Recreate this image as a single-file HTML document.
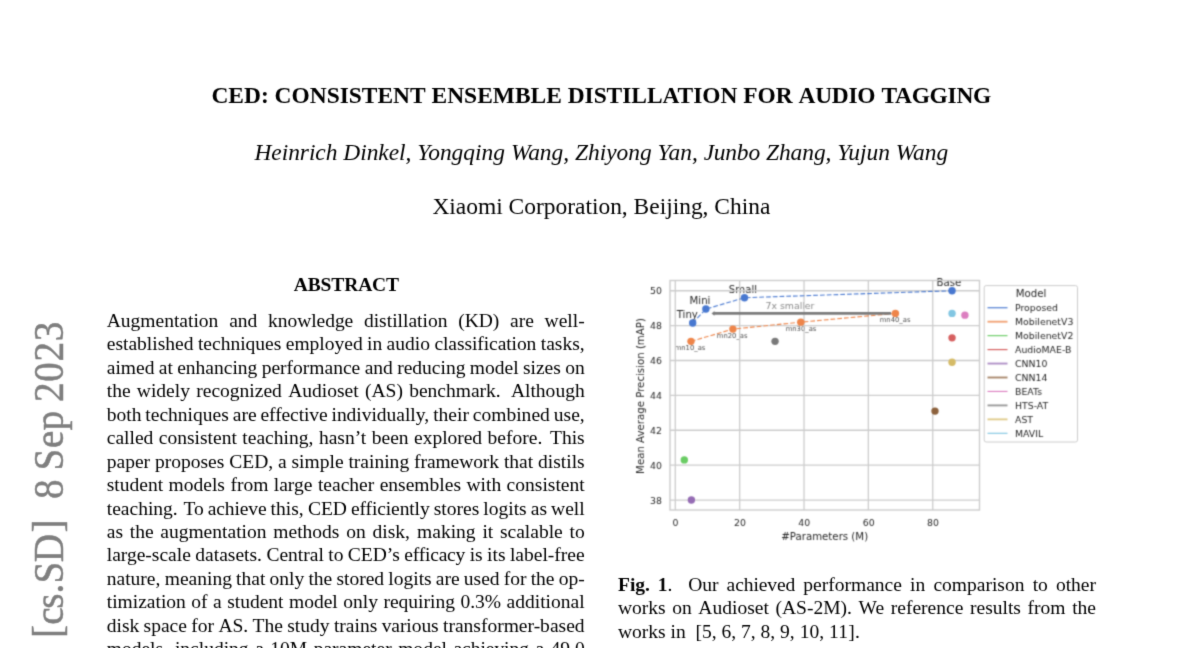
<!DOCTYPE html>
<html lang="en">
<head>
<meta charset="utf-8">
<title>CED: Consistent Ensemble Distillation for Audio Tagging</title>
<style>
html,body{margin:0;padding:0;background:#fff;}
body{width:1200px;height:648px;overflow:hidden;position:relative;font-family:"Liberation Serif","Times New Roman",serif;color:#000;}
.page{position:absolute;left:0;top:0;width:1200px;height:648px;overflow:hidden;background:#fff;}
.txt{position:absolute;left:0;top:0;width:1200px;height:700px;filter:url(#tb);}
.l{position:absolute;line-height:24px;height:24px;white-space:nowrap;margin:0;padding:0;}
.stamp span{position:relative;}
.b{font-weight:bold;}
.i{font-style:italic;}
.stamp{position:absolute;left:48.6px;top:637.6px;font-size:39.2px;line-height:40px;height:40px;white-space:nowrap;letter-spacing:0.1px;color:#7f7f7f;-webkit-text-stroke:0.45px #7f7f7f;transform-origin:0 0;transform:rotate(-90deg) scale(1,1.07) translate(0,-20px);}
svg text{font-family:"DejaVu Sans","Liberation Sans",sans-serif;}
</style>
</head>
<body>
<div class="page">
<svg width="0" height="0" style="position:absolute"><defs><filter id="tb" x="0" y="0" width="1200" height="700" filterUnits="userSpaceOnUse" color-interpolation-filters="sRGB"><feConvolveMatrix order="3" kernelMatrix="0.0143 0.0910 0.0143 0.0910 0.5785 0.0910 0.0143 0.0910 0.0143" divisor="1" edgeMode="none" preserveAlpha="false"/></filter></defs></svg>
<div class="txt">
<div id="t" class="l b" style="left:211.44px;top:83.29px;font-size:23.442px;"><span>CED:</span> <span style="margin-left:-0.02px">CONSISTENT</span> <span style="margin-left:0.43px">ENSEMBLE</span> <span style="margin-left:0.02px;letter-spacing:-0.044px">DISTILLATION</span> <span style="margin-left:0.04px">FOR</span> <span style="margin-left:0.01px;letter-spacing:-0.296px">AUDIO</span> <span style="margin-left:0.31px;letter-spacing:-0.274px">TAGGING</span></div>
<div id="a" class="l i" style="left:254.47px;top:139.69px;font-size:23.442px;"><span style="letter-spacing:-0.049px">Heinrich</span> <span style="margin-left:0.07px;letter-spacing:-0.037px">Dinkel,</span> <span style="margin-left:0.06px">Yongqing</span> <span style="letter-spacing:-0.058px">Wang,</span> <span style="margin-left:0.07px">Zhiyong</span> <span style="margin-left:0.02px">Yan,</span> <span style="margin-left:-0.02px;letter-spacing:-0.203px">Junbo</span> <span style="margin-left:0.20px;letter-spacing:-0.048px">Zhang,</span> <span style="margin-left:0.06px">Yujun</span> <span style="margin-left:-0.02px">Wang</span></div>
<div id="f" class="l" style="left:432.41px;top:194.29px;font-size:23.442px;"><span>Xiaomi</span> <span style="margin-left:0.03px">Corporation,</span> <span style="margin-left:0.03px">Beijing,</span> <span style="margin-left:0.03px">China</span></div>
<div id="h" class="l b" style="left:293.77px;top:273.41px;font-size:19.535px;"><span style="letter-spacing:-0.141px">ABSTRACT</span></div>
<div id="b0" class="l" style="left:106.72px;top:309.01px;font-size:19.535px;"><span>Augmentation</span> <span style="margin-left:5.91px">and</span> <span style="margin-left:5.80px;letter-spacing:-0.051px">knowledge</span> <span style="margin-left:5.84px">distillation</span> <span style="margin-left:5.87px">(KD)</span> <span style="margin-left:5.81px">are</span> <span style="margin-left:5.81px">well-</span></div>
<div id="b1" class="l" style="left:106.72px;top:332.45px;font-size:19.535px;"><span>established</span> <span style="margin-left:-0.44px">techniques</span> <span style="margin-left:-0.45px;letter-spacing:-0.017px">employed</span> <span style="margin-left:-0.51px">in</span> <span style="margin-left:-0.52px">audio</span> <span style="margin-left:-0.48px;letter-spacing:-0.074px">classification</span> <span style="margin-left:-0.46px">tasks,</span></div>
<div id="b2" class="l" style="left:106.72px;top:355.89px;font-size:19.535px;"><span>aimed</span> <span style="margin-left:-0.56px">at</span> <span style="margin-left:-0.61px">enhancing</span> <span style="margin-left:-0.54px">performance</span> <span style="margin-left:-0.52px">and</span> <span style="margin-left:-0.59px">reducing</span> <span style="margin-left:-0.55px">model</span> <span style="margin-left:-0.56px">sizes</span> <span style="margin-left:-0.57px;letter-spacing:0.019px">on</span></div>
<div id="b3" class="l" style="left:106.72px;top:379.33px;font-size:19.535px;"><span>the</span> <span style="margin-left:1.37px">widely</span> <span style="margin-left:1.40px">recognized</span> <span style="margin-left:1.44px">Audioset</span> <span style="margin-left:1.43px">(AS)</span> <span style="margin-left:1.36px">benchmark.</span> <span style="margin-left:5.32px">Although</span></div>
<div id="b4" class="l" style="left:106.72px;top:402.77px;font-size:19.535px;"><span>both</span> <span style="margin-left:-0.97px">techniques</span> <span style="margin-left:-0.92px">are</span> <span style="margin-left:-0.98px;letter-spacing:-0.106px">effective</span> <span style="margin-left:-0.90px;letter-spacing:-0.032px">individually,</span> <span style="margin-left:-0.76px">their</span> <span style="margin-left:-0.97px">combined</span> <span style="margin-left:-0.92px">use,</span></div>
<div id="b5" class="l" style="left:106.72px;top:426.21px;font-size:19.535px;"><span>called</span> <span style="margin-left:0.59px">consistent</span> <span style="margin-left:0.60px">teaching,</span> <span style="margin-left:0.75px">hasn’t</span> <span style="margin-left:0.58px">been</span> <span style="margin-left:0.58px;letter-spacing:-0.032px">explored</span> <span style="margin-left:0.57px">before.</span> <span style="margin-left:2.83px">This</span></div>
<div id="b6" class="l" style="left:106.72px;top:449.66px;font-size:19.535px;"><span>paper</span> <span style="margin-left:-0.02px">proposes</span> <span style="margin-left:-0.01px">CED,</span> <span style="margin-left:-0.03px">a</span> <span style="margin-left:-0.07px">simple</span> <span style="margin-left:-0.02px">training</span> <span style="margin-left:0.02px;letter-spacing:-0.076px">framework</span> <span style="margin-left:0.02px">that</span> <span style="margin-left:-0.03px">distils</span></div>
<div id="b7" class="l" style="left:106.72px;top:473.10px;font-size:19.535px;"><span>student</span> <span style="margin-left:0.58px">models</span> <span style="margin-left:0.58px">from</span> <span style="margin-left:0.56px">large</span> <span style="margin-left:0.57px">teacher</span> <span style="margin-left:0.58px">ensembles</span> <span style="margin-left:0.60px">with</span> <span style="margin-left:0.55px">consistent</span></div>
<div id="b8" class="l" style="left:106.72px;top:496.54px;font-size:19.535px;"><span>teaching.</span> <span style="margin-left:0.96px;letter-spacing:-0.188px">To</span> <span style="margin-left:-0.69px;letter-spacing:-0.119px">achieve</span> <span style="margin-left:-0.77px">this,</span> <span style="margin-left:-0.68px">CED</span> <span style="margin-left:-0.86px;letter-spacing:-0.112px">efficiently</span> <span style="margin-left:-0.77px">stores</span> <span style="margin-left:-0.83px">logits</span> <span style="margin-left:-0.84px">as</span> <span style="margin-left:-0.87px">well</span></div>
<div id="b9" class="l" style="left:106.72px;top:519.98px;font-size:19.535px;"><span>as</span> <span style="margin-left:1.83px">the</span> <span style="margin-left:1.84px">augmentation</span> <span style="margin-left:1.94px">methods</span> <span style="margin-left:1.88px;letter-spacing:0.019px">on</span> <span style="margin-left:1.79px">disk,</span> <span style="margin-left:2.29px">making</span> <span style="margin-left:1.88px">it</span> <span style="margin-left:1.81px">scalable</span> <span style="margin-left:1.87px">to</span></div>
<div id="b10" class="l" style="left:106.72px;top:543.42px;font-size:19.535px;"><span>large-scale</span> <span style="margin-left:-0.45px">datasets.</span> <span style="margin-left:-0.46px">Central</span> <span style="margin-left:-0.49px">to</span> <span style="margin-left:-0.54px">CED’s</span> <span style="margin-left:-0.50px;letter-spacing:-0.206px">efficacy</span> <span style="margin-left:-0.32px">is</span> <span style="margin-left:-0.54px">its</span> <span style="margin-left:-0.55px">label-free</span></div>
<div id="b11" class="l" style="left:106.72px;top:566.86px;font-size:19.535px;"><span>nature,</span> <span style="margin-left:-0.56px">meaning</span> <span style="margin-left:-0.69px">that</span> <span style="margin-left:-0.73px">only</span> <span style="margin-left:-0.73px">the</span> <span style="margin-left:-0.75px">stored</span> <span style="margin-left:-0.72px">logits</span> <span style="margin-left:-0.74px">are</span> <span style="margin-left:-0.74px">used</span> <span style="margin-left:-0.74px">for</span> <span style="margin-left:-0.75px">the</span> <span style="margin-left:-0.75px">op-</span></div>
<div id="b12" class="l" style="left:106.72px;top:590.31px;font-size:19.535px;"><span>timization</span> <span style="margin-left:0.62px">of</span> <span style="margin-left:0.54px">a</span> <span style="margin-left:0.54px">student</span> <span style="margin-left:0.60px">model</span> <span style="margin-left:0.60px">only</span> <span style="margin-left:0.57px">requiring</span> <span style="margin-left:0.60px">0.3%</span> <span style="margin-left:0.58px">additional</span></div>
<div id="b13" class="l" style="left:106.72px;top:613.75px;font-size:19.535px;"><span>disk</span> <span style="margin-left:-0.57px">space</span> <span style="margin-left:-0.54px">for</span> <span style="margin-left:-0.57px">AS.</span> <span style="margin-left:-0.56px;letter-spacing:0.016px">The</span> <span style="margin-left:-0.60px">study</span> <span style="margin-left:-0.54px">trains</span> <span style="margin-left:-0.53px;letter-spacing:-0.072px">various</span> <span style="margin-left:-0.51px">transformer-based</span></div>
<div id="b14" class="l" style="left:106.72px;top:637.19px;font-size:19.535px;"><span>models,</span> <span style="margin-left:2.02px">including</span> <span style="margin-left:1.66px">a</span> <span style="margin-left:1.57px">10M</span> <span style="margin-left:1.59px">parameter</span> <span style="margin-left:1.66px">model</span> <span style="margin-left:1.64px;letter-spacing:-0.052px">achieving</span> <span style="margin-left:1.62px">a</span> <span style="margin-left:1.57px">49.0</span></div>
<div id="c0" class="l" style="left:618.06px;top:572.71px;font-size:19.535px;"><span class="b" style="letter-spacing:-0.087px">Fig.</span> <span class="b" style="margin-left:3.28px">1</span><span style="margin-left:0.01px">.</span> <span style="margin-left:10.76px">Our</span> <span style="margin-left:3.21px;letter-spacing:-0.100px">achieved</span> <span style="margin-left:3.29px">performance</span> <span style="margin-left:3.29px">in</span> <span style="margin-left:3.22px">comparison</span> <span style="margin-left:3.29px">to</span> <span style="margin-left:3.22px">other</span></div>
<div id="c1" class="l" style="left:618.06px;top:596.15px;font-size:19.535px;"><span style="letter-spacing:-0.039px">works</span> <span style="margin-left:1.75px;letter-spacing:0.019px">on</span> <span style="margin-left:1.69px">Audioset</span> <span style="margin-left:1.79px">(AS-2M).</span> <span style="margin-left:1.78px;letter-spacing:0.020px">We</span> <span style="margin-left:1.71px">reference</span> <span style="margin-left:1.80px">results</span> <span style="margin-left:1.77px">from</span> <span style="margin-left:1.76px">the</span></div>
<div id="c2" class="l" style="left:618.06px;top:619.59px;font-size:19.535px;"><span style="letter-spacing:-0.039px">works</span> <span style="margin-left:0.04px">in</span> <span style="margin-left:4.90px">[5,</span> <span style="margin-left:0.02px">6,</span> <span>7,</span> <span>8,</span> <span>9,</span> <span>10,</span> <span style="margin-left:0.01px;letter-spacing:0.250px">11].</span></div>
<div id="s" class="stamp"><span style="top:-1.9px">[</span>c<span style="left:-1.5px">s.S</span><span style="left:-2.0px">D</span><span style="left:-0.7px;top:-1.9px">]</span><span style="left:-0.2px">&nbsp; 8 </span><span style="left:-1.3px">S</span><span style="left:-0.6px">ep </span><span style="left:-1.8px">2</span><span style="left:-1.2px">0</span><span style="left:-0.6px">2</span>3</div>
</div>
<svg width="1200" height="648" viewBox="0 0 1200 648" style="position:absolute;left:0;top:0;">
<defs><filter id="bl" x="600" y="260" width="520" height="300" filterUnits="userSpaceOnUse" color-interpolation-filters="sRGB"><feConvolveMatrix order="5" kernelMatrix="0.0000 0.0010 0.0033 0.0010 0.0000 0.0010 0.0353 0.1153 0.0353 0.0010 0.0033 0.1153 0.3764 0.1153 0.0033 0.0010 0.0353 0.1153 0.0353 0.0010 0.0000 0.0010 0.0033 0.0010 0.0000" divisor="1" edgeMode="none" preserveAlpha="false"/></filter></defs>
<g filter="url(#bl)">
<text x="687.3" y="317.9" font-size="10.2" text-anchor="middle" fill="#262626">Tiny</text>
<text x="700" y="304.3" font-size="10.2" text-anchor="middle" fill="#262626">Mini</text>
<text x="743" y="292.6" font-size="10.2" text-anchor="middle" fill="#262626">Small</text>
<text x="948.9" y="285.7" font-size="10.2" text-anchor="middle" fill="#262626">Base</text>
<text x="690" y="350.1" font-size="6.8" text-anchor="middle" fill="#4d4d4d">mn10_as</text>
<text x="732.2" y="337.7" font-size="6.8" text-anchor="middle" fill="#4d4d4d">mn20_as</text>
<text x="801" y="330.5" font-size="6.8" text-anchor="middle" fill="#4d4d4d">mn30_as</text>
<text x="895.1" y="321.8" font-size="6.8" text-anchor="middle" fill="#4d4d4d">mn40_as</text>
<text x="790" y="308.8" font-size="9.35" text-anchor="middle" fill="#8a8a8a">7x smaller</text>
<line x1="675.30" y1="280.5" x2="675.30" y2="510.0" stroke="#cccccc" stroke-width="1.3"/>
<line x1="739.66" y1="280.5" x2="739.66" y2="510.0" stroke="#cccccc" stroke-width="1.3"/>
<line x1="804.02" y1="280.5" x2="804.02" y2="510.0" stroke="#cccccc" stroke-width="1.3"/>
<line x1="868.38" y1="280.5" x2="868.38" y2="510.0" stroke="#cccccc" stroke-width="1.3"/>
<line x1="932.74" y1="280.5" x2="932.74" y2="510.0" stroke="#cccccc" stroke-width="1.3"/>
<line x1="670.0" y1="500.03" x2="979.5" y2="500.03" stroke="#cccccc" stroke-width="1.3"/>
<line x1="670.0" y1="465.15" x2="979.5" y2="465.15" stroke="#cccccc" stroke-width="1.3"/>
<line x1="670.0" y1="430.27" x2="979.5" y2="430.27" stroke="#cccccc" stroke-width="1.3"/>
<line x1="670.0" y1="395.39" x2="979.5" y2="395.39" stroke="#cccccc" stroke-width="1.3"/>
<line x1="670.0" y1="360.51" x2="979.5" y2="360.51" stroke="#cccccc" stroke-width="1.3"/>
<line x1="670.0" y1="325.63" x2="979.5" y2="325.63" stroke="#cccccc" stroke-width="1.3"/>
<line x1="670.0" y1="290.75" x2="979.5" y2="290.75" stroke="#cccccc" stroke-width="1.3"/>
<rect x="670.0" y="280.5" width="309.5" height="229.5" fill="none" stroke="#cccccc" stroke-width="1.4"/>
<text x="675.60" y="526.4" font-size="9.35" text-anchor="middle" fill="#262626">0</text>
<text x="739.96" y="526.4" font-size="9.35" text-anchor="middle" fill="#262626">20</text>
<text x="804.32" y="526.4" font-size="9.35" text-anchor="middle" fill="#262626">40</text>
<text x="868.68" y="526.4" font-size="9.35" text-anchor="middle" fill="#262626">60</text>
<text x="933.04" y="526.4" font-size="9.35" text-anchor="middle" fill="#262626">80</text>
<text x="662" y="503.53" font-size="9.35" text-anchor="end" fill="#262626">38</text>
<text x="662" y="468.65" font-size="9.35" text-anchor="end" fill="#262626">40</text>
<text x="662" y="433.77" font-size="9.35" text-anchor="end" fill="#262626">42</text>
<text x="662" y="398.89" font-size="9.35" text-anchor="end" fill="#262626">44</text>
<text x="662" y="364.01" font-size="9.35" text-anchor="end" fill="#262626">46</text>
<text x="662" y="329.13" font-size="9.35" text-anchor="end" fill="#262626">48</text>
<text x="662" y="294.25" font-size="9.35" text-anchor="end" fill="#262626">50</text>
<text x="824.7" y="539.6" font-size="10.2" text-anchor="middle" fill="#262626">#Parameters (M)</text>
<text transform="translate(644.2,396) rotate(-90)" font-size="10.2" text-anchor="middle" fill="#262626">Mean Average Precision (mAP)</text>
<polyline points="692.68,323.01 705.87,309.06 744.49,297.73 952.05,290.75" fill="none" stroke="#4878d0" stroke-width="1.1" stroke-dasharray="4.7 2.05"/>
<polyline points="691.00,341.33 732.90,329.12 800.80,322.14 895.41,313.42" fill="none" stroke="#ee854a" stroke-width="1.1" stroke-dasharray="4.7 2.05"/>
<line x1="713" y1="313.42" x2="891" y2="313.42" stroke="#7a7a7a" stroke-width="2.7"/>
<polygon points="711.5,313.42 714.5,311.02 714.5,315.82" fill="#7a7a7a"/>
<circle cx="692.68" cy="323.01" r="3.7" fill="#4878d0"/>
<circle cx="705.87" cy="309.06" r="3.7" fill="#4878d0"/>
<circle cx="744.49" cy="297.73" r="3.7" fill="#4878d0"/>
<circle cx="952.05" cy="290.75" r="3.7" fill="#4878d0"/>
<circle cx="691.00" cy="341.33" r="3.7" fill="#ee854a"/>
<circle cx="732.90" cy="329.12" r="3.7" fill="#ee854a"/>
<circle cx="800.80" cy="322.14" r="3.7" fill="#ee854a"/>
<circle cx="895.41" cy="313.42" r="3.7" fill="#ee854a"/>
<circle cx="684.31" cy="459.92" r="3.7" fill="#6acc64"/>
<circle cx="952.05" cy="337.84" r="3.7" fill="#d65f5f"/>
<circle cx="691.39" cy="500.03" r="3.7" fill="#956cb4"/>
<circle cx="934.99" cy="411.09" r="3.7" fill="#8c613c"/>
<circle cx="964.92" cy="315.17" r="3.7" fill="#dc7ec0"/>
<circle cx="775.06" cy="341.33" r="3.7" fill="#797979"/>
<circle cx="952.05" cy="362.25" r="3.7" fill="#d5bb67"/>
<circle cx="952.05" cy="313.42" r="3.7" fill="#82c6e2"/>
<rect x="984.2" y="285.6" width="93.3" height="156.4" rx="2" ry="2" fill="#ffffff" fill-opacity="0.8" stroke="#cccccc" stroke-width="1"/>
<text x="1031" y="296.5" font-size="10.2" text-anchor="middle" fill="#262626">Model</text>
<line x1="987.5" y1="307.75" x2="1007.5" y2="307.75" stroke="#4878d0" stroke-width="1.15"/>
<text x="1015" y="311.15" font-size="9.35" fill="#262626">Proposed</text>
<line x1="987.5" y1="321.70" x2="1007.5" y2="321.70" stroke="#ee854a" stroke-width="1.9" stroke-opacity="0.75"/>
<text x="1015" y="325.10" font-size="9.35" fill="#262626">MobilenetV3</text>
<line x1="987.5" y1="335.65" x2="1007.5" y2="335.65" stroke="#6acc64" stroke-width="1.15"/>
<text x="1015" y="339.05" font-size="9.35" fill="#262626">MobilenetV2</text>
<line x1="987.5" y1="349.60" x2="1007.5" y2="349.60" stroke="#d65f5f" stroke-width="1.15"/>
<text x="1015" y="353.00" font-size="9.35" fill="#262626">AudioMAE-B</text>
<line x1="987.5" y1="363.55" x2="1007.5" y2="363.55" stroke="#956cb4" stroke-width="1.9" stroke-opacity="0.75"/>
<text x="1015" y="366.95" font-size="9.35" fill="#262626">CNN10</text>
<line x1="987.5" y1="377.50" x2="1007.5" y2="377.50" stroke="#8c613c" stroke-width="1.9" stroke-opacity="0.75"/>
<text x="1015" y="380.90" font-size="9.35" fill="#262626">CNN14</text>
<line x1="987.5" y1="391.45" x2="1007.5" y2="391.45" stroke="#dc7ec0" stroke-width="1.15"/>
<text x="1015" y="394.85" font-size="9.35" fill="#262626">BEATs</text>
<line x1="987.5" y1="405.40" x2="1007.5" y2="405.40" stroke="#797979" stroke-width="1.9" stroke-opacity="0.75"/>
<text x="1015" y="408.80" font-size="9.35" fill="#262626">HTS-AT</text>
<line x1="987.5" y1="419.35" x2="1007.5" y2="419.35" stroke="#d5bb67" stroke-width="1.9" stroke-opacity="0.75"/>
<text x="1015" y="422.75" font-size="9.35" fill="#262626">AST</text>
<line x1="987.5" y1="433.30" x2="1007.5" y2="433.30" stroke="#82c6e2" stroke-width="1.15"/>
<text x="1015" y="436.70" font-size="9.35" fill="#262626">MAVIL</text>
</g></svg>
</div>
</body>
</html>
